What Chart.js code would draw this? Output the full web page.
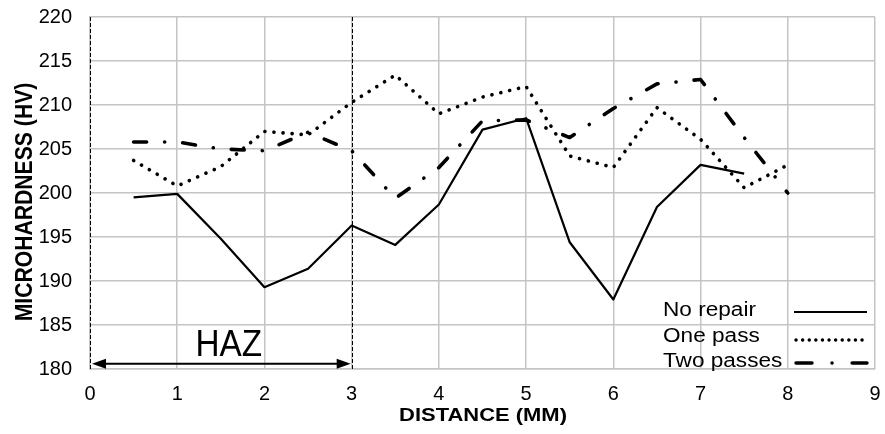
<!DOCTYPE html>
<html>
<head>
<meta charset="utf-8">
<script src="https://cdn.jsdelivr.net/npm/chart.js@4"></script>
<style>
  html, body { margin: 0; padding: 0; background: #fff; }
  #wrap { width: 885px; height: 434px; }
</style>
</head>
<body>
<div id="wrap"><canvas id="grafica" width="885" height="434"></canvas></div>
<script>
// =================== Datos ===================
const distancia = [0.5, 1, 1.5, 2, 2.5, 3, 3.5, 4, 4.5, 5, 5.5, 6, 6.5, 7, 7.5, 8];
const noRepair  = [199.5, 199.9, 194.8, 189.3, 191.4, 196.3, 194.1, 198.7, 207.2, 208.5, 194.4, 187.9, 198.4, 203.2, 202.2];
const onePass   = [203.7, 200.8, 203.0, 207.0, 206.6, 210.3, 213.4, 209.0, 210.9, 212.1, 204.2, 202.9, 209.7, 206.1, 200.6, 203.2];
const twoPasses = [205.8, 205.8, 205.0, 204.8, 206.9, 204.8, 199.4, 202.9, 208.2, 208.3, 206.3, 209.6, 212.4, 212.9, 206.3, 200.0];

const xTicks = [0, 1, 2, 3, 4, 5, 6, 7, 8, 9];
const yTicks = [180, 185, 190, 195, 200, 205, 210, 215, 220];

const series = [
  { label: "No repair",  values: noRepair,  dash: [],                width: 2.2, cap: "butt" },
  { label: "One pass",   values: onePass,   dash: [0.1, 9],          width: 3.6, cap: "round" },
  { label: "Two passes", values: twoPasses, dash: [13, 18, 0.1, 18], width: 3.6, cap: "round" }
];
// muestras de la leyenda (más densas que en el gráfico)
const legendDash = [[], [0.1, 6.5], [16, 20, 0.1, 20]];

const ARIAL = "'Liberation Sans', Arial, sans-serif";

// =================== Helpers ===================
function puntos(vals) {
  return vals.map((v, i) => ({ x: distancia[i], y: v }));
}

// texto con escala horizontal (la figura original viene estirada)
function texto(ctx, str, x, y, font, sx) {
  ctx.save();
  ctx.translate(x, y);
  ctx.scale(sx, 1);
  ctx.font = font;
  ctx.fillText(str, 0, 0);
  ctx.restore();
}

// HAZ: líneas verticales, flecha doble y texto
const hazPlugin = {
  id: "haz",
  afterDatasetsDraw(chart) {
    const { ctx, scales: { x, y } } = chart;
    const top = y.getPixelForValue(220);
    const bot = y.getPixelForValue(180);
    ctx.save();
    ctx.strokeStyle = "#000";
    ctx.lineWidth = 1;
    ctx.setLineDash([4, 2]);
    [0, 3].forEach(v => {
      const px = Math.round(x.getPixelForValue(v)) + 0.5;
      ctx.beginPath();
      ctx.moveTo(px, top);
      ctx.lineTo(px, bot);
      ctx.stroke();
    });
    ctx.setLineDash([]);

    // flecha doble
    const ay = y.getPixelForValue(180.6);
    const x0 = x.getPixelForValue(0) + 2;
    const x1 = x.getPixelForValue(3) - 1;
    ctx.lineWidth = 2;
    ctx.beginPath();
    ctx.moveTo(x0 + 8, ay);
    ctx.lineTo(x1 - 8, ay);
    ctx.stroke();
    ctx.fillStyle = "#000";
    ctx.beginPath();
    ctx.moveTo(x0, ay); ctx.lineTo(x0 + 14, ay - 5); ctx.lineTo(x0 + 14, ay + 5); ctx.closePath();
    ctx.fill();
    ctx.beginPath();
    ctx.moveTo(x1, ay); ctx.lineTo(x1 - 14, ay - 5); ctx.lineTo(x1 - 14, ay + 5); ctx.closePath();
    ctx.fill();

    ctx.textAlign = "center";
    ctx.textBaseline = "alphabetic";
    texto(ctx, "HAZ", x.getPixelForValue(1.59), y.getPixelForValue(181.5), "37px " + ARIAL, 0.9);
    ctx.restore();
  }
};

// Leyenda dentro del área, abajo a la derecha
const leyendaPlugin = {
  id: "leyenda",
  afterDatasetsDraw(chart) {
    const { ctx } = chart;
    const filas = [310, 336, 361];
    const lineas = [312, 340, 363];
    ctx.save();
    ctx.fillStyle = "#000";
    ctx.textAlign = "left";
    ctx.textBaseline = "middle";
    series.forEach((s, i) => {
      texto(ctx, s.label, 663, filas[i], "20px " + ARIAL, 1.13);
      ctx.strokeStyle = "#000";
      ctx.lineWidth = i === 0 ? 2.2 : 3.4;
      ctx.lineCap = s.cap;
      ctx.setLineDash(legendDash[i]);
      ctx.beginPath();
      ctx.moveTo(i === 0 ? 794 : 796, lineas[i]);
      ctx.lineTo(867, lineas[i]);
      ctx.stroke();
    });
    ctx.restore();
  }
};

// Etiquetas del eje X y títulos de ejes
const titulosPlugin = {
  id: "titulos",
  afterDraw(chart) {
    const { ctx, scales: { x } } = chart;
    ctx.save();
    ctx.fillStyle = "#000";
    ctx.textAlign = "center";
    ctx.textBaseline = "alphabetic";
    xTicks.forEach(v => {
      texto(ctx, String(v), x.getPixelForValue(v), 400, "21px " + ARIAL, 0.95);
    });
    texto(ctx, "DISTANCE (MM)", 483, 421, "bold 18px " + ARIAL, 1.22);

    ctx.translate(32, 202);
    ctx.rotate(-Math.PI / 2);
    texto(ctx, "MICROHARDNESS (HV)", 0, 0, "bold 23px " + ARIAL, 0.92);
    ctx.restore();
  }
};

// =================== Chart ===================
const ctx = document.getElementById("grafica").getContext("2d");

new Chart(ctx, {
  type: "line",
  data: {
    datasets: series.map(s => ({
      label: s.label,
      data: puntos(s.values),
      borderColor: "#000",
      borderWidth: s.width,
      borderDash: s.dash,
      borderCapStyle: s.cap,
      borderJoinStyle: "round",
      pointRadius: 0,
      fill: false,
      tension: 0
    }))
  },
  options: {
    responsive: false,
    animation: false,
    layout: { padding: { top: 17, right: 10, left: 0, bottom: 0 } },
    plugins: { legend: { display: false }, tooltip: { enabled: false } },
    scales: {
      x: {
        type: "linear",
        min: 0, max: 9,
        afterBuildTicks: (ax) => { ax.ticks = xTicks.map(v => ({ value: v })); },
        afterFit: (ax) => { ax.height = 65; ax.paddingLeft = 0; ax.paddingRight = 0; },
        grid: { color: "#c4c4c4", lineWidth: 1.5, drawTicks: false },
        border: { color: "#c4c4c4", width: 1.5 },
        ticks: { display: false }
      },
      y: {
        min: 180, max: 220,
        afterBuildTicks: (ax) => { ax.ticks = yTicks.map(v => ({ value: v })); },
        afterFit: (ax) => { ax.width = 90; ax.paddingTop = 0; ax.paddingBottom = 0; },
        grid: { color: "#c4c4c4", lineWidth: 1.5, drawTicks: false },
        border: { color: "#c4c4c4", width: 1.5 },
        ticks: { color: "#000", padding: 18, font: { family: ARIAL, size: 20 } }
      }
    }
  },
  plugins: [hazPlugin, leyendaPlugin, titulosPlugin]
});
</script>
</body>
</html>
